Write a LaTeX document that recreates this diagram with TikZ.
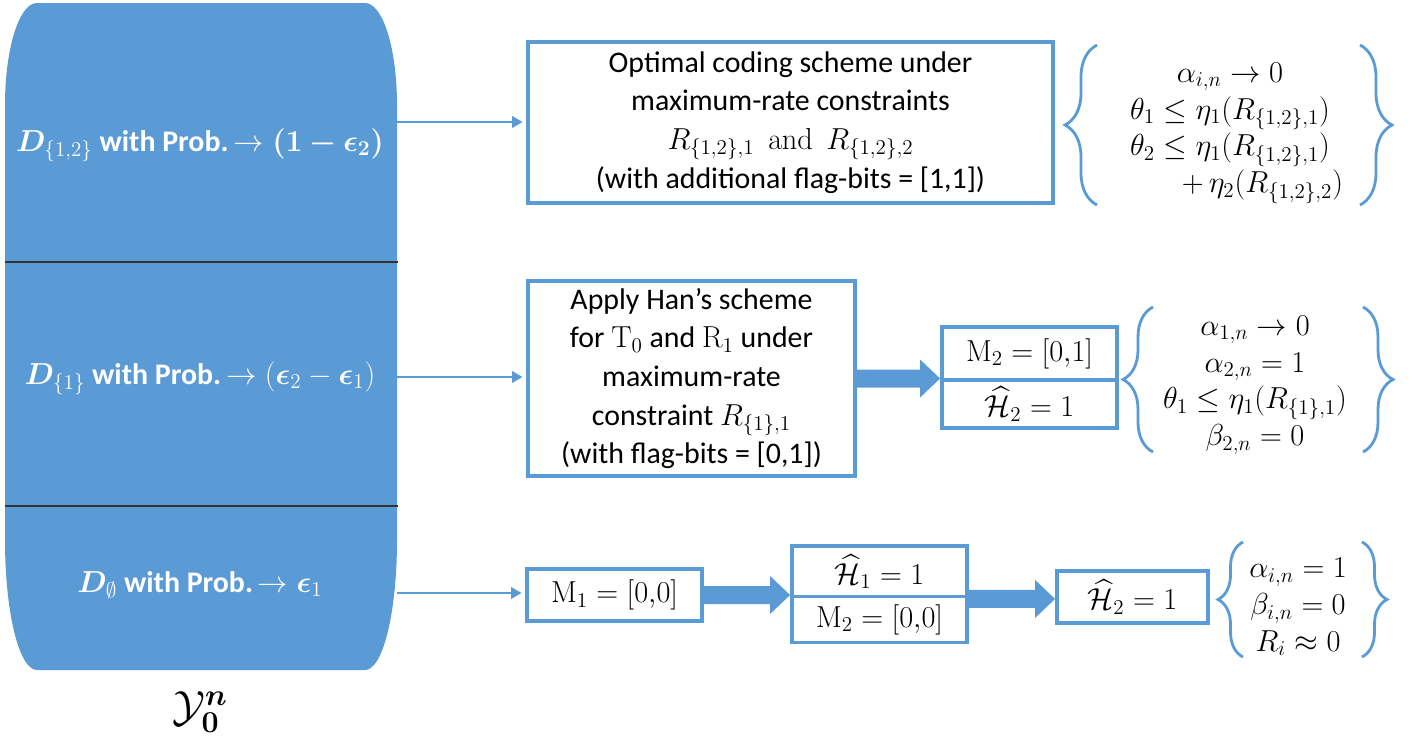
\documentclass[tikz,border=0pt]{standalone}
\usepackage{amsmath}
\usepackage{amssymb}
\usepackage{bm}
\usepackage[no-math]{fontspec}
\setmainfont{Carlito}
\usetikzlibrary{arrows.meta,decorations.pathreplacing,calc}
\definecolor{officeblue}{HTML}{5B9BD5}

% block arrow from node anchor #1 to the x of anchor #2
\newcommand{\fatarr}[2]{%
  \path (#1 -| #2) coordinate (fattip);
  \fill[officeblue] ($(#1)+(0,-9)$) -- ($(fattip)+(-20,-9)$) -- ($(fattip)+(-20,-19)$)
    -- (fattip) -- ($(fattip)+(-20,19)$) -- ($(fattip)+(-20,9)$) -- ($(#1)+(0,9)$) -- cycle;}

\begin{document}
\begin{tikzpicture}[x=0.02cm,y=-0.02cm,
  box/.style={draw=officeblue,line width=2.2pt,fill=white,align=center,inner sep=1pt,
    font=\fontsize{17}{22}\selectfont},
  cell/.style={box,minimum width=3.5cm,font=\fontsize{18}{22}\selectfont},
  lbl/.style={text=white,font=\fontsize{17}{20}\selectfont\bfseries},
  cond/.style={align=center,inner sep=0pt,font=\fontsize{17}{21}\selectfont},
  brc/.style={officeblue,line width=1.6pt,decorate},
  thinarrow/.style={officeblue,line width=1.5pt,shorten >=2pt,-{Triangle[length=6pt,width=6.5pt]}}]
  \useasboundingbox (0,0) rectangle (1416,745);

  % the set Y_0^n, cut in three parts
  \fill[officeblue] (5,105) .. controls (5,49) and (19,3) .. (37,3) -- (365,3)
    .. controls (383,3) and (397,49) .. (397,105) -- (397,540)
    .. controls (397,612) and (383,670) .. (365,670) -- (37,670)
    .. controls (19,670) and (5,612) .. (5,540) -- cycle;
  \draw[black!80,line width=0.8pt] (5,262) -- (398,262);
  \draw[black!80,line width=0.8pt] (5,506) -- (398,506);

  \node[lbl] (dA) at (200,145) {$\boldsymbol{D}_{\{1,2\}}$ with Prob.\,$\rightarrow\boldsymbol{(1-\epsilon_2)}$};
  \node[lbl] (dB) at (200,378) {$\boldsymbol{D}_{\{1\}}$ with Prob.\,$\rightarrow(\boldsymbol{\epsilon}_2-\boldsymbol{\epsilon}_1)$};
  \node[lbl] (dC) at (200,585) {$\boldsymbol{D}_{\emptyset}$ with Prob.\,$\rightarrow\boldsymbol{\epsilon}_1$};
  \node[font=\fontsize{25}{28}\selectfont] (yset) at (200,712) {$\mathcal{Y}_{\mathbf{0}}^{\bm{n}}$};

  \coordinate (outA) at (397,122);
  \coordinate (outB) at (397,377);
  \coordinate (outC) at (397,593);

  % first part
  \node[box,minimum width=10.5cm,minimum height=3.22cm] (optA) at (790.5,122.5)
    {Optimal coding scheme under\\ maximum-rate constraints\\
     $R_{\{1,2\},1}\ \ \mathrm{and}\ \ R_{\{1,2\},2}$\\ (with additional flag-bits = [1,1])};
  \draw[thinarrow] (outA) -- (outA -| optA.west);
  \node[cond] (condA) at (1230,133) {$\alpha_{i,n}\rightarrow 0$\\
    $\theta_1\le\eta_1(R_{\{1,2\},1})$\\ $\theta_2\le\eta_1(R_{\{1,2\},1})$\\
    \hspace*{1.3cm}$+\,\eta_2(R_{\{1,2\},2})$};
  \draw[brc,decoration={brace,amplitude=0.64cm}] (1097,205) -- (1097,45);
  \draw[brc,decoration={brace,amplitude=0.64cm}] (1360,45) -- (1360,205);

  % second part
  \node[box,minimum width=6.54cm,minimum height=3.9cm] (hanB) at (691.5,378.5)
    {Apply Han's scheme\\ for $\mathrm{T}_0$ and $\mathrm{R}_1$ under\\ maximum-rate\\
     constraint $R_{\{1\},1}$\\ (with flag-bits = [0,1])};
  \draw[thinarrow] (outB) -- (outB -| hanB.west);
  \node[cell,minimum height=1.06cm] (mB) at (1029.5,353.5) {$\mathrm{M}_2=[0{,}1]$};
  \node[cell,minimum height=0.96cm] (hB) at (1029.5,404) {$\widehat{\mathcal{H}}_2=1$};
  \fatarr{hanB.east}{mB.south west}
  \node[cond] (condB) at (1255,385) {$\alpha_{1,n}\rightarrow 0$\\ $\alpha_{2,n}=1$\\
    $\theta_1\le\eta_1(R_{\{1\},1})$\\ $\beta_{2,n}=0$};
  \draw[brc,decoration={brace,amplitude=0.6cm}] (1153,452) -- (1153,307);
  \draw[brc,decoration={brace,amplitude=0.6cm}] (1363,307) -- (1363,452);

  % third part
  \node[cell,minimum height=1.04cm] (mC) at (614.5,595) {$\mathrm{M}_1=[0{,}0]$};
  \draw[thinarrow] (outC) -- (outC -| mC.west);
  \node[cell,minimum height=1.02cm] (hC) at (879.5,571.5) {$\widehat{\mathcal{H}}_1=1$};
  \node[cell,minimum height=0.92cm] (mC2) at (879.5,619.5) {$\mathrm{M}_2=[0{,}0]$};
  \node[cell,minimum width=3.02cm,minimum height=1.04cm] (hC2) at (1132.5,597) {$\widehat{\mathcal{H}}_2=1$};
  \fatarr{mC.east}{hC.south west}
  \fatarr{hC.south east}{hC2.west}
  \node[cond] (condC) at (1298,607) {$\alpha_{i,n}=1$\\ $\beta_{i,n}=0$\\ $R_i\approx 0$};
  \draw[brc,decoration={brace,amplitude=0.5cm}] (1243,657) -- (1243,542);
  \draw[brc,decoration={brace,amplitude=0.5cm}] (1362,542) -- (1362,657);
\end{tikzpicture}
\end{document}
